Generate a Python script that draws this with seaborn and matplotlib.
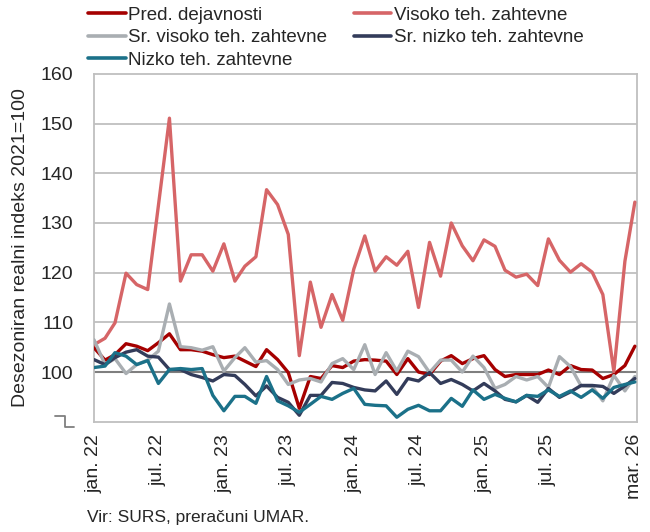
import pandas as pd
import matplotlib
matplotlib.use("Agg")
import matplotlib.pyplot as plt
import seaborn as sns

# ---------------------------------------------------------
# DATA (monthly, jan. 2022 - mar. 2026, index 2021=100)
# ---------------------------------------------------------
months = pd.date_range("2022-01-01", periods=51, freq="MS")

pred = [104.9, 102.4, 103.5, 105.7, 105.2, 104.3, 105.9, 107.7, 104.5, 104.5, 104.2, 103.5, 102.9,
        103.2, 102.2, 101.1, 104.5, 102.5, 99.9, 92.7, 99.1, 98.7, 101.3, 100.9, 102.2, 102.5,
        102.4, 102.2, 99.5, 102.7, 100.0, 99.5, 102.2, 103.3, 101.7, 102.7, 103.3, 100.5,
        99.1, 99.5, 99.5, 99.5, 100.4, 99.5, 101.3, 100.5, 100.4, 98.7, 99.5, 101.3, 105.2]
visoko = [105.5, 106.8, 109.9, 119.9, 117.6, 116.6, 133.5, 151.1, 118.3, 123.6, 123.6, 120.3, 125.8,
          118.3, 121.3, 123.2, 136.7, 133.7, 127.7, 103.3, 118.1, 109.0, 115.6, 110.4, 120.7, 127.4,
          120.3, 123.2, 121.5, 124.3, 113.0, 126.1, 119.3, 130.0, 125.4, 122.4, 126.6, 125.3,
          120.5, 119.1, 119.7, 117.4, 126.8, 122.5, 120.1, 121.8, 120.1, 115.6, 100.1, 122.3, 134.2]
sr_visoko = [106.5, 101.5, 102.7, 99.7, 101.5, 102.4, 104.2, 113.7, 105.1, 104.9, 104.4, 105.1, 100.2,
             102.9, 104.9, 102.0, 102.3, 100.5, 97.5, 98.4, 98.7, 98.0, 101.7, 102.7, 100.5, 105.5,
             99.5, 103.9, 100.2, 104.2, 103.1, 99.9, 102.4, 102.4, 100.0, 103.2, 100.9, 96.7,
             97.5, 99.1, 98.4, 99.1, 96.9, 103.1, 101.1, 97.2, 97.1, 94.2, 99.3, 96.2, 99.1]
sr_nizko = [102.5, 101.5, 102.9, 104.0, 104.5, 103.2, 103.0, 100.5, 100.5, 99.5, 98.9, 98.2, 99.5,
            99.3, 97.5, 95.2, 97.2, 94.9, 93.9, 91.3, 95.3, 95.3, 97.9, 97.7, 96.9, 96.4,
            96.2, 98.2, 95.5, 98.7, 98.2, 99.9, 97.7, 98.5, 97.5, 96.2, 97.7, 96.2,
            94.5, 94.0, 95.3, 93.9, 96.7, 94.9, 96.0, 97.3, 97.3, 97.1, 95.7, 97.2, 98.7]
nizko = [100.9, 101.2, 103.9, 103.2, 101.5, 102.3, 97.7, 100.5, 100.7, 100.5, 100.7, 95.3, 92.2,
         95.1, 95.1, 93.7, 99.1, 94.2, 93.2, 91.9, 93.5, 95.1, 94.5, 95.7, 96.7, 93.5,
         93.3, 93.2, 90.9, 92.5, 93.3, 92.2, 92.2, 94.7, 93.1, 96.4, 94.5, 95.5,
         94.7, 94.0, 95.3, 95.1, 96.4, 95.1, 96.2, 94.9, 96.4, 94.7, 96.9, 97.5, 98.0]

series_names = ["Pred. dejavnosti", "Visoko teh. zahtevne", "Sr. visoko teh. zahtevne",
                "Sr. nizko teh. zahtevne", "Nizko teh. zahtevne"]
series_values = [pred, visoko, sr_visoko, sr_nizko, nizko]
colors = ["#a50000", "#d66567", "#a9aeb2", "#333c5a", "#1b7189"]

tick_dates = pd.to_datetime(["2022-01-01", "2022-07-01", "2023-01-01", "2023-07-01", "2024-01-01",
                             "2024-07-01", "2025-01-01", "2025-07-01", "2026-01-01", "2026-03-01"])
tick_labels = ["jan. 22", "jul. 22", "jan. 23", "jul. 23", "jan. 24",
               "jul. 24", "jan. 25", "jul. 25", "", "mar. 26"]

df = pd.concat([pd.DataFrame({"mesec": months, "indeks": v, "serija": n})
                for n, v in zip(series_names, series_values)], ignore_index=True)

# ---------------------------------------------------------
# FIGURE
# ---------------------------------------------------------
sns.set_style("white")
plt.rcParams["font.family"] = ["Liberation Sans", "DejaVu Sans"]
grid_col = "#bfbfbf"

fig = plt.figure(figsize=(6.5, 5.32), dpi=100)
ax = fig.add_axes([0.1446, 0.2073, 0.8354, 0.6537])

ax.axhline(100, color="#7f7f7f", linewidth=1.5, zorder=1)
for v in range(110, 160, 10):
    ax.axhline(v, color=grid_col, linewidth=1.3, zorder=0)

sns.lineplot(data=df, x="mesec", y="indeks", hue="serija", hue_order=series_names,
             palette=colors, linewidth=2.4, ax=ax, legend=False, zorder=3)

ax.set_ylim(90, 160)
ax.set_yticks(range(100, 161, 10))
ax.set_xlim(months[0], months[-1] + pd.Timedelta(days=6))
ax.set_xticks(tick_dates)
ax.set_xticklabels(tick_labels, rotation=90)
ax.tick_params(axis="x", length=5, width=1.3, color=grid_col, pad=4, labelsize=14)
ax.tick_params(axis="y", length=0, pad=15, labelsize=14)
ax.set_xlabel("")
ax.set_ylabel("Desezoniran realni indeks 2021=100", fontsize=14, labelpad=8)

for s in ax.spines.values():
    s.set_color(grid_col)
    s.set_linewidth(1.3)

# axis break mark at the bottom of the y axis
ax.plot([-0.072, -0.053, -0.053, -0.037], [0.016, 0.016, -0.016, -0.016],
        transform=ax.transAxes, color="#7f7f7f", linewidth=1.3, clip_on=False)

handles = [plt.Line2D([], [], color=c, linewidth=2.6) for c in colors]
order = [0, 2, 4, 1, 3]
fig.legend([handles[i] for i in order], [series_names[i] for i in order],
           loc="upper left", bbox_to_anchor=(0.1354, 0.9875), ncol=2, frameon=False,
           fontsize=13.5, handlelength=2.0, handletextpad=0.15, columnspacing=1.4,
           labelspacing=0.28, borderpad=0, borderaxespad=0)

fig.text(0.134, 0.028, "Vir: SURS, preračuni UMAR.", fontsize=12.5, va="center")

plt.savefig("out.png", dpi=100)
plt.close()
